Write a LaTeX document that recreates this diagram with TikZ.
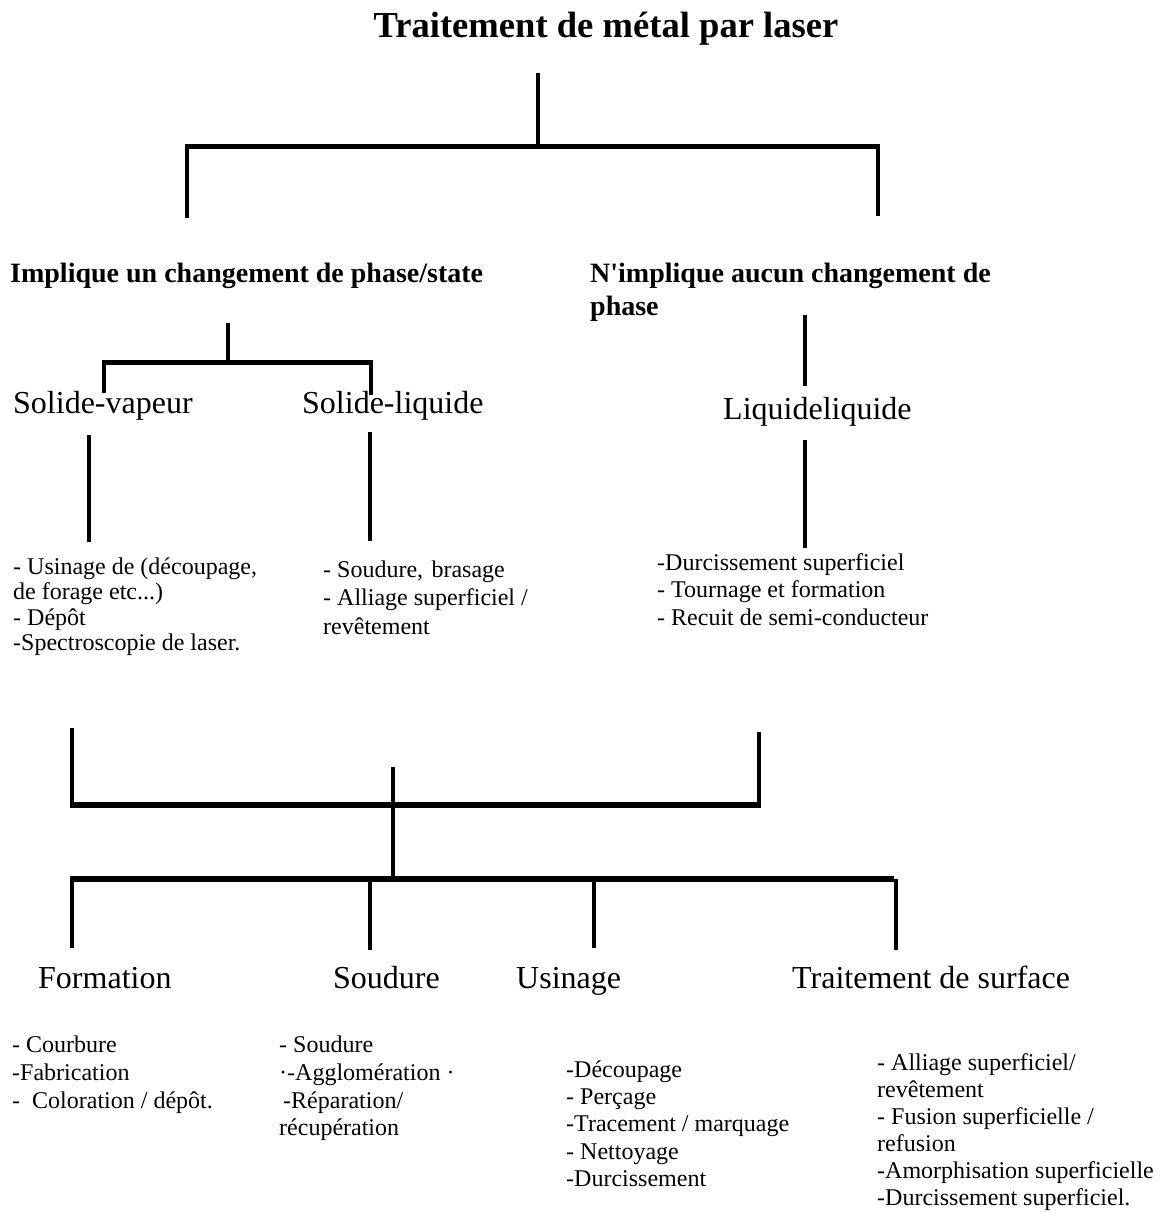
\documentclass[tikz,border=0pt]{standalone}
\usepackage{fontspec}
\setmainfont{Liberation Serif}[Ligatures=TeXOff]
\begin{document}
\begin{tikzpicture}[x=1pt,y=-1pt,
  ttl/.style={font=\fontsize{36.6}{40}\selectfont\bfseries, inner sep=0pt, anchor=base},
  hdr/.style={font=\fontsize{28}{33}\selectfont\bfseries, inner sep=0pt, align=left},
  lbl/.style={font=\fontsize{32}{36}\selectfont, inner sep=0pt, anchor=base west},
  lst/.style={font=\fontsize{24}{#1}\selectfont, inner sep=0pt, anchor=north west, align=left},
  vline/.style={line width=4.5pt},
  hline/.style={line width=5pt},
  hbar/.style={line width=5.5pt}]
\useasboundingbox (0,0) rectangle (1162,1212);

% ---- texts
\node[ttl] (root) at (606,38) {Traitement de métal par laser};
\node[hdr, anchor=base west] (chg) at (10,282) {Implique un changement de phase/state};
\node[hdr, anchor=north west] (nochg) at (590,259) {\strut N\textquotesingle implique aucun changement de\\phase};
\node[lbl] (sv) at (13,413) {Solide-vapeur};
\node[lbl] (sl) at (302,413) {Solide-liquide};
\node[lbl] (ll) at (723,419) {Liquideliquide};
\node[lst=25.5] (svl) at (13,556) {\strut - Usinage de (découpage,\\de forage etc...)\\- Dépôt\\-Spectroscopie de laser.};
\node[lst=28.5] (sll) at (323,557) {\strut - Soudure,\hspace{0.35em}brasage\\- Alliage superficiel /\\revêtement};
\node[lst=27.5] (lll) at (657,551) {\strut -Durcissement superficiel\\- Tournage et formation\\- Recuit de semi-conducteur};

\node[lbl] (form) at (38,988) {Formation};
\node[lbl] (soud) at (333,988) {Soudure};
\node[lbl] (usin) at (516,988) {Usinage};
\node[lbl] (trai) at (792,988) {Traitement de surface};
\node[lst=27.7] (forml) at (12,1033) {\strut - Courbure\\-Fabrication\\-\ \ Coloration / dépôt.};
\node[lst=27.7] (soudl) at (279,1033) {\strut - Soudure\\·-Agglomération ·\\\hspace{4pt}-Réparation/\\récupération};
\node[lst=27.3] (usinl) at (566,1058) {\strut -Découpage\\- Perçage\\-Tracement / marquage\\- Nettoyage\\-Durcissement};
\node[lst=27] (trail) at (877,1051) {\strut - Alliage superficiel/\\revêtement\\- Fusion superficielle /\\refusion\\-Amorphisation superficielle\\-Durcissement superficiel.};

% ---- connector points
\coordinate (r0) at (538,73);   \coordinate (r1) at (538,146);
\coordinate (rl) at (187,146);  \coordinate (rr) at (878,146);
\coordinate (rl2) at (187,218); \coordinate (rr2) at (878,216);

\coordinate (c0) at (228,323);  \coordinate (c1) at (228,362);
\coordinate (cl) at (104,362);  \coordinate (cr) at (371,362);
\coordinate (cl2) at (104,393); \coordinate (cr2) at (371,395);

\coordinate (sv0) at (89,435);  \coordinate (sv1) at (89,542);
\coordinate (sl0) at (370,432); \coordinate (sl1) at (370,541);

\coordinate (n0) at (805,315);  \coordinate (n1) at (805,386);
\coordinate (ll0) at (805,440); \coordinate (ll1) at (805,548);

\coordinate (a0) at (72,728);   \coordinate (a1) at (72,805);
\coordinate (b0) at (759,732);  \coordinate (b1) at (759,805);
\coordinate (m0) at (393,767);  \coordinate (m1) at (393,876);
\coordinate (h0) at (72,879);   \coordinate (h1) at (894,879);
\coordinate (f1) at (72,948);   \coordinate (s0) at (370,879);  \coordinate (s1) at (370,950);
\coordinate (u0) at (594,879);  \coordinate (u1) at (594,948);
\coordinate (t0) at (896,879);  \coordinate (t1) at (896,950);

% ---- connectors
\draw[vline] (r0) -- (r1);
\draw[hline] ([xshift=-2.25pt]rl) -- ([xshift=2.25pt]rr);
\draw[vline] (rl) -- (rl2);
\draw[vline] (rr) -- (rr2);

\draw[vline] (c0) -- (c1);
\draw[hline] ([xshift=-2.25pt]cl) -- ([xshift=2.25pt]cr);
\draw[vline] (cl) -- (cl2);
\draw[vline] (cr) -- (cr2);

\draw[vline] (sv0) -- (sv1);
\draw[vline] (sl0) -- (sl1);
\draw[vline] (n0) -- (n1);
\draw[vline] (ll0) -- (ll1);

\draw[vline] (a0) -- (a1);
\draw[vline] (b0) -- (b1);
\draw[hbar] ([xshift=-2.25pt]a1) -- ([xshift=2.25pt]b1);
\draw[vline] (m0) -- (m1);
\draw[hbar] ([xshift=-2.25pt]h0) -- (h1);
\draw[vline] (h0) -- (f1);
\draw[vline] (s0) -- (s1);
\draw[vline] (u0) -- (u1);
\draw[vline] (t0) -- (t1);
\end{tikzpicture}
\end{document}
